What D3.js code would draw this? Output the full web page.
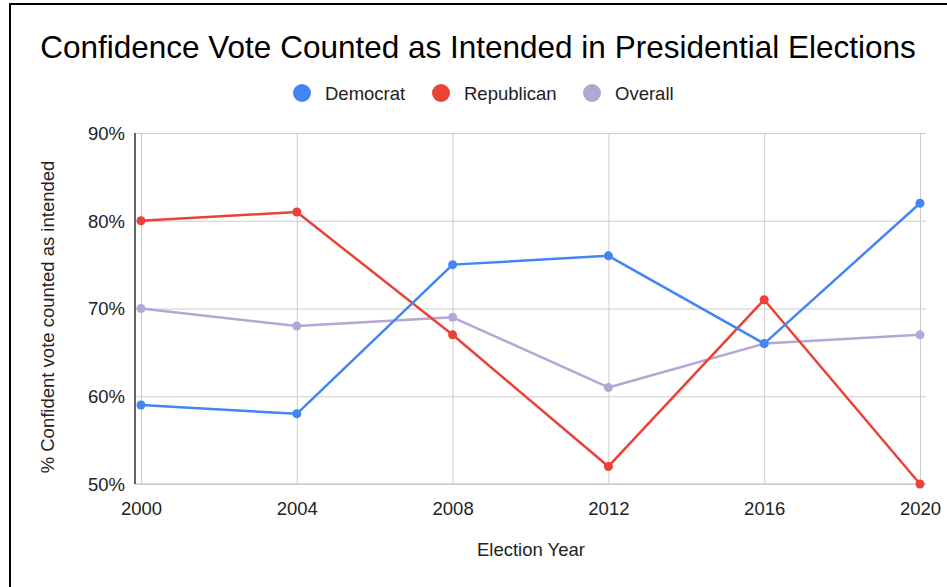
<!DOCTYPE html>
<html>
<head>
<meta charset="utf-8">
<script src="https://cdn.jsdelivr.net/npm/d3@7"></script>
<style>
  html, body { margin: 0; padding: 0; background: #fff; }
  svg { display: block; font-family: "Liberation Sans", Arial, Helvetica, sans-serif; }
</style>
</head>
<body>
<svg id="chart" width="947" height="587"></svg>
<script>
// Survey data: share confident their vote was counted as intended
const years = [2000, 2004, 2008, 2012, 2016, 2020];
const democrat = [59, 58, 75, 76, 66, 82];
const republican = [80, 81, 67, 52, 71, 50];
const overall = [70, 68, 69, 61, 66, 67];
const yTicks = [50, 60, 70, 80, 90];

const seriesNames = ["Democrat", "Republican", "Overall"];
const seriesColors = ["#4285F4", "#EA4335", "#B4A7D6"];
const seriesValues = [democrat, republican, overall];

const svg = d3.select("#chart");
const W = 947, H = 587;

// outer frame
svg.append("rect")
  .attr("x", 10).attr("y", 4)
  .attr("width", W + 20).attr("height", H + 20)
  .attr("fill", "#fff").attr("stroke", "#000").attr("stroke-width", 2);

const plot = { left: 135, right: 926, top: 133, bottom: 484 };

const x = d3.scaleLinear().domain([2000, 2020]).range([141, 920]);
const y = d3.scaleLinear().domain([50, 90]).range([plot.bottom, plot.top]);

// title
svg.append("text")
  .attr("x", 478).attr("y", 58)
  .attr("text-anchor", "middle")
  .attr("font-size", 31.5)
  .attr("fill", "#000")
  .text("Confidence Vote Counted as Intended in Presidential Elections");

// legend
const legendX = [302, 441, 592];
const legend = svg.append("g");
seriesNames.forEach((name, i) => {
  legend.append("circle")
    .attr("cx", legendX[i]).attr("cy", 93).attr("r", 9)
    .attr("fill", seriesColors[i]);
  legend.append("text")
    .attr("x", legendX[i] + 23).attr("y", 99.5)
    .attr("font-size", 18.5).attr("fill", "#222")
    .text(name);
});

// horizontal gridlines + y axis labels
const yAxis = d3.axisLeft(y)
  .tickValues(yTicks)
  .tickSize(-(plot.right - plot.left))
  .tickFormat(d => d + "%");
const gy = svg.append("g")
  .attr("transform", `translate(${plot.left},0)`)
  .call(yAxis);
gy.select(".domain").remove();
gy.selectAll(".tick line").attr("stroke", "#cccccc").attr("stroke-width", 1);
gy.selectAll(".tick text")
  .attr("x", -10).attr("dy", "0.35em")
  .attr("font-size", 18.5).attr("fill", "#222")
  .attr("font-family", "Liberation Sans, Arial, sans-serif");

// vertical gridlines + x axis labels
const xAxis = d3.axisBottom(x)
  .tickValues(years)
  .tickSize(-(plot.bottom - plot.top))
  .tickFormat(d3.format("d"));
const gx = svg.append("g")
  .attr("transform", `translate(0,${plot.bottom})`)
  .call(xAxis);
gx.select(".domain").remove();
gx.selectAll(".tick line").attr("stroke", "#cccccc").attr("stroke-width", 1);
gx.selectAll(".tick text")
  .attr("y", 18).attr("dy", "0.71em")
  .attr("font-size", 18.5).attr("fill", "#222")
  .attr("font-family", "Liberation Sans, Arial, sans-serif");

// baseline and y axis line
svg.append("line")
  .attr("x1", plot.left).attr("x2", plot.right)
  .attr("y1", plot.bottom).attr("y2", plot.bottom)
  .attr("stroke", "#cccccc").attr("stroke-width", 1.5);
svg.append("line")
  .attr("x1", plot.left).attr("x2", plot.left)
  .attr("y1", plot.top).attr("y2", plot.bottom)
  .attr("stroke", "#333").attr("stroke-width", 1.5);

// axis titles
svg.append("text")
  .attr("x", 531).attr("y", 556)
  .attr("text-anchor", "middle")
  .attr("font-size", 18.5).attr("fill", "#222")
  .text("Election Year");
svg.append("text")
  .attr("transform", "translate(54,317) rotate(-90)")
  .attr("text-anchor", "middle")
  .attr("font-size", 18.5).attr("fill", "#222")
  .text("% Confident vote counted as intended");

// series lines and points (Overall drawn first, Democrat on top)
const line = d3.line().x((d, i) => x(years[i])).y(d => y(d));
[2, 1, 0].forEach(i => {
  const g = svg.append("g");
  g.append("path")
    .datum(seriesValues[i])
    .attr("d", line)
    .attr("fill", "none")
    .attr("stroke", seriesColors[i])
    .attr("stroke-width", 2.5)
    .attr("stroke-linejoin", "round");
  g.selectAll("circle")
    .data(seriesValues[i])
    .join("circle")
    .attr("cx", (d, j) => x(years[j]))
    .attr("cy", d => y(d))
    .attr("r", 4.5)
    .attr("fill", seriesColors[i]);
});
</script>
</body>
</html>
